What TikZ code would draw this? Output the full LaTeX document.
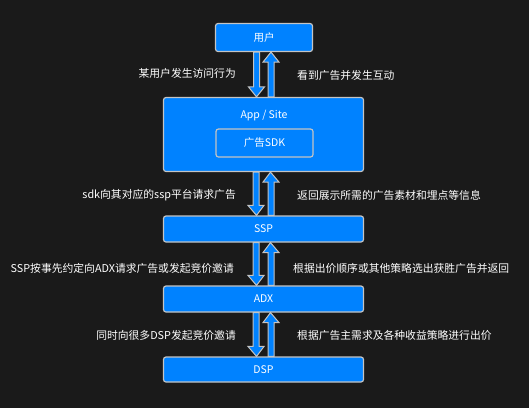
\documentclass[tikz,border=0pt]{standalone}
\usepackage{fontspec}
\setmainfont{Noto Sans CJK SC}
\usetikzlibrary{calc}

\definecolor{bgdark}{HTML}{1A1A1A}
\definecolor{boxblue}{HTML}{0082FF}
\definecolor{rimgray}{HTML}{C4C4C4}

\tikzset{
        box/.style={draw=rimgray, fill=boxblue, line width=1.2pt, rounded corners=2.5pt,
                minimum width=200pt, minimum height=26pt, inner sep=0pt,
                text=white, font=\fontsize{10.5}{12}\selectfont},
        note/.style={text=white, inner sep=0pt, font=\fontsize{10.8}{13}\selectfont},
        fatarrow/.style={draw=rimgray, fill=boxblue, line width=1pt,
                to path={let \p1=(\tikztostart), \p2=(\tikztotarget),
                        \p3=($(\tikztotarget)!10pt!(\tikztostart)$) in
                        (\x1-3pt,\y1) -- (\x1-3pt,\y3) -- (\x1-8pt,\y3) -- (\x2,\y2)
                        -- (\x1+8pt,\y3) -- (\x1+3pt,\y3) -- (\x1+3pt,\y1) -- cycle}}
}

\begin{document}
\begin{tikzpicture}[x=1pt, y=-1pt]
        \fill[bgdark] (0,0) rectangle (529,408);
        \useasboundingbox (0,0) rectangle (529,408);

        \node[box, minimum width=97pt, minimum height=28pt] (usr) at (264,37.5) {用户};
        \node[box, minimum height=74pt] (app) at (263.5,134.5) {};
        \node[note, font=\fontsize{10.5}{12}\selectfont] (appname) at (264,115.5) {App / Site};
        \node[box, minimum width=97pt, minimum height=28pt] (sdk) at (264.5,143) {广告SDK};
        \node[box] (ssp) at (263.5,229) {SSP};
        \node[box] (adx) at (263.5,299) {ADX};
        \node[box, minimum height=25pt] (dsp) at (263.5,369.5) {DSP};

        \draw[fatarrow] ([xshift=-7.5pt]usr.south) to ([xshift=-7pt]app.north);
        \draw[fatarrow] ([xshift=7.5pt]app.north) to ([xshift=7pt]usr.south);
        \draw[fatarrow] ([xshift=-7.5pt]app.south) to ([xshift=-7pt]ssp.north);
        \draw[fatarrow] ([xshift=7.5pt]ssp.north) to ([xshift=7pt]app.south);
        \draw[fatarrow] ([xshift=-7.5pt]ssp.south) to ([xshift=-7pt]adx.north);
        \draw[fatarrow] ([xshift=7.5pt]adx.north) to ([xshift=7pt]ssp.south);
        \draw[fatarrow] ([xshift=-7.5pt]adx.south) to ([xshift=-7pt]dsp.north);
        \draw[fatarrow] ([xshift=7.5pt]dsp.north) to ([xshift=7pt]adx.south);

        \node[note, anchor=east] (ask1) at (236,73.5) {某用户发生访问行为};
        \node[note, anchor=west] (back1) at (297,75) {看到广告并发生互动};
        \node[note, anchor=east] (ask2) at (236,195) {sdk向其对应的ssp平台请求广告};
        \node[note, anchor=west] (back2) at (297,195) {返回展示所需的广告素材和埋点等信息};
        \node[note, anchor=east] (ask3) at (234,268) {SSP按事先约定向ADX请求广告或发起竞价邀请};
        \node[note, anchor=west] (back3) at (293,268) {根据出价顺序或其他策略选出获胜广告并返回};
        \node[note, anchor=east] (ask4) at (236,335) {同时向很多DSP发起竞价邀请};
        \node[note, anchor=west] (back4) at (297,335) {根据广告主需求及各种收益策略进行出价};
\end{tikzpicture}
\end{document}
